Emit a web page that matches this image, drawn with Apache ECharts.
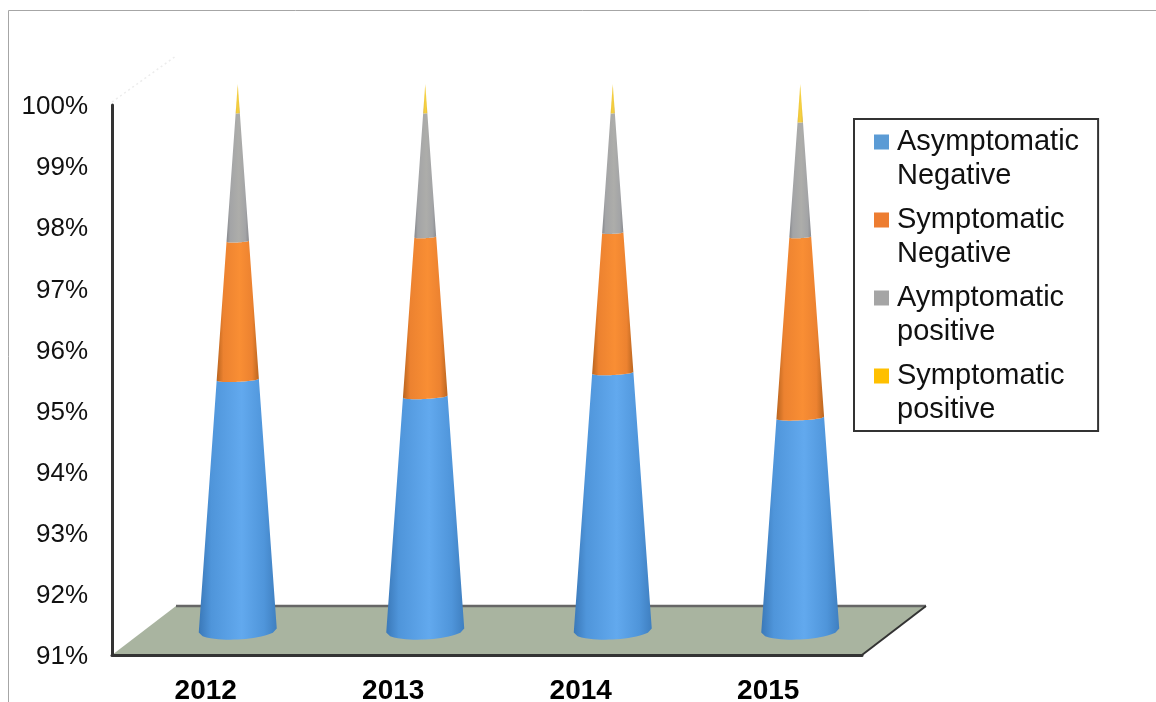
<!DOCTYPE html>
<html>
<head>
<meta charset="utf-8">
<style>html,body{margin:0;padding:0;background:#fff}#chart{width:1156px;height:702px}</style>
<script src="https://cdn.jsdelivr.net/npm/echarts@6/dist/echarts.min.js"></script>
</head>
<body>
<div id="chart"></div>
<script>
// Share of cases by year, stacked to 100 %.
const years = ['2012', '2013', '2014', '2015'];
const asymptomaticNegative = [95.13, 94.85, 95.24, 94.50];
const symptomaticNegative = [2.28, 2.63, 2.31, 2.98];
const asymptomaticPositive = [2.11, 2.04, 1.97, 1.89];
const symptomaticPositive = [0.48, 0.48, 0.48, 0.63];

const seriesNames = ['Asymptomatic\nNegative', 'Symptomatic\nNegative', 'Aymptomatic\npositive', 'Symptomatic\npositive'];
const seriesValues = [asymptomaticNegative, symptomaticNegative, asymptomaticPositive, symptomaticPositive];
const legendColors = ['#5b9bd5', '#ed7d31', '#a5a5a5', '#ffc000'];
const coneShades = [
  ['#3a78b8', '#4f95da', '#62a9ee', '#4f95da', '#3f7fc0'],
  ['#b9641f', '#ec8230', '#f98e34', '#ec8230', '#bb6620'],
  ['#85878c', '#a3a4a6', '#adadaa', '#a3a4a6', '#8a8b90'],
  ['#c9a63a', '#eec63c', '#f5d040', '#eec63c', '#c9a63a']
];
const axisMin = 91;
const axisMax = 100;

// Oblique projection of the floor depth and the cone proportions.
const depthX = 64, depthY = 49;
const foreshorten = 0.9936;
const baseHalfWidth = 39;
const baseRimRatio = 0.23;
const innerRimRatio = 0.1;
const tiltPerWidth = -0.05;

function rimPoints(cx, y, halfW, ratio) {
  const pts = [];
  const steps = 20;
  for (let i = 0; i <= steps; i++) {
    const t = -1 + 2 * i / steps;
    const sag = Math.sqrt(1 - t * t) * halfW * ratio;
    pts.push([cx + t * halfW, y + sag + t * halfW * tiltPerWidth]);
  }
  return pts;
}

function coneSegment(shades) {
  return function (params, api) {
    const idx = api.value(0);
    const from = api.coord([idx, axisMin]);
    const cx = from[0] + depthX / 2;
    const baseY = from[1] - depthY / 2;
    const project = v => baseY - (from[1] - api.coord([idx, v])[1]) * foreshorten;
    const tipY = project(axisMax);
    const yBottom = project(api.value(1));
    const yTop = project(api.value(2));
    const halfAt = y => baseHalfWidth * (y - tipY) / (baseY - tipY);
    const isBase = api.value(1) === axisMin;
    const bottom = rimPoints(cx, yBottom, halfAt(yBottom), isBase ? baseRimRatio : innerRimRatio);
    const top = rimPoints(cx, yTop, halfAt(yTop), innerRimRatio).reverse();
    return {
      type: 'polygon',
      shape: { points: bottom.concat(top) },
      style: {
        fill: new echarts.graphic.LinearGradient(0, 0, 1, 0, [
          { offset: 0, color: shades[0] },
          { offset: 0.16, color: shades[1] },
          { offset: 0.55, color: shades[2] },
          { offset: 0.84, color: shades[3] },
          { offset: 1, color: shades[4] }
        ])
      }
    };
  };
}

function drawFloor(params, api) {
  const g = params.coordSys;
  const left = g.x, right = g.x + g.width, front = g.y + g.height;
  return {
    type: 'group',
    children: [
      {
        type: 'polygon',
        shape: { points: [[left, front], [right, front], [right + depthX, front - depthY], [left + depthX, front - depthY]] },
        style: { fill: '#a9b4a0' }
      },
      {
        type: 'line',
        shape: { x1: left + depthX, y1: front - depthY, x2: right + depthX, y2: front - depthY },
        style: { stroke: '#666', lineWidth: 2.5 }
      },
      {
        type: 'line',
        shape: { x1: right + depthX, y1: front - depthY, x2: right, y2: front },
        style: { stroke: '#333', lineWidth: 2 }
      },
      {
        type: 'line',
        shape: { x1: left, y1: g.y - 3, x2: left + depthX, y2: g.y - depthY },
        style: { stroke: '#ececec', lineWidth: 1.5, lineDash: [2, 3] }
      }
    ]
  };
}

const coneSeries = seriesNames.map((name, s) => ({
  name: name,
  type: 'custom',
  coordinateSystem: 'cartesian2d',
  itemStyle: { color: legendColors[s] },
  renderItem: coneSegment(coneShades[s]),
  encode: { x: 0, y: [1, 2] },
  silent: true,
  z: 3,
  data: years.map((year, i) => {
    let start = s === 0 ? axisMin : 0;
    for (let k = 0; k < s; k++) start += seriesValues[k][i];
    if (s > 0) return [i, start, start + seriesValues[s][i]];
    return [i, axisMin, seriesValues[0][i]];
  })
}));

const chart = echarts.init(document.getElementById('chart'), null, { renderer: 'canvas' });
chart.setOption({
  animation: false,
  backgroundColor: '#fff',
  textStyle: { fontFamily: 'Liberation Sans' },
  grid: { left: 112, right: 294, top: 105, bottom: 47, outerBoundsMode: 'none' },
  xAxis: {
    type: 'category',
    data: years,
    axisTick: { show: false },
    axisLine: { onZero: false, lineStyle: { color: '#333', width: 3 } },
    axisLabel: { color: '#000', fontSize: 28, fontWeight: 'bold', margin: 22, fontFamily: 'Liberation Sans' },
    z: 5
  },
  yAxis: {
    type: 'value',
    min: axisMin,
    max: axisMax,
    interval: 1,
    splitLine: { show: false },
    axisTick: { show: false },
    axisLine: { show: true, lineStyle: { color: '#333', width: 3 } },
    axisLabel: { color: '#111', fontSize: 26, margin: 24, verticalAlign: 'top', lineHeight: 4, formatter: '{value}%', fontFamily: 'Liberation Sans' },
    z: 5
  },
  legend: {
    left: 854,
    top: 119,
    orient: 'vertical',
    data: seriesNames,
    backgroundColor: '#fff',
    borderColor: '#333',
    borderWidth: 2,
    padding: [4, 19, 2, 20],
    itemGap: 6,
    itemWidth: 15,
    itemHeight: 68,
    icon: 'path://M0 9.5L15 9.5L15 24.5L0 24.5Z M0 0L0 0Z M0 68L0 68Z',
    selectedMode: false,
    textStyle: { color: '#111', fontSize: 29, lineHeight: 34, padding: [4, 0, 0, 3], fontFamily: 'Liberation Sans' }
  },
  graphic: {
    elements: [
      { type: 'line', silent: true, shape: { x1: 8.5, y1: 10.5, x2: 1156, y2: 10.5 }, style: { stroke: '#a6a6a6', lineWidth: 1 } },
      { type: 'line', silent: true, shape: { x1: 8.5, y1: 10.5, x2: 8.5, y2: 702 }, style: { stroke: '#a6a6a6', lineWidth: 1 } }
    ]
  },
  series: [
    { name: 'floor', type: 'custom', renderItem: drawFloor, silent: true, z: 1, data: [[0, axisMin]] }
  ].concat(coneSeries)
});
</script>
</body>
</html>
